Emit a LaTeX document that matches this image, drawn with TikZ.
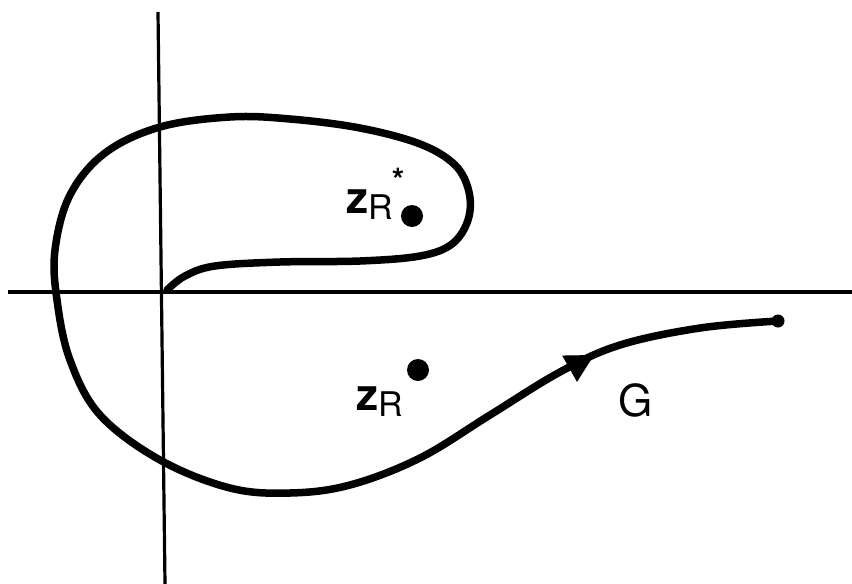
\documentclass[tikz,border=0pt]{standalone}
\usepackage{fontspec}
\setmainfont{TeX Gyre Heros}
\usetikzlibrary{arrows.meta}
\begin{document}
\begin{tikzpicture}[x=1pt,y=-1pt,
  axis/.style={line width=3.2pt},
  contour/.style={line width=7.5pt,line cap=round,line join=round},
  pole/.style={circle,fill=black,inner sep=0pt,minimum size=22pt},
  lbl/.style={inner sep=0pt,font=\fontsize{44}{44}\selectfont}]
\useasboundingbox (0,0) rectangle (852,584);
% axes
\coordinate (vt) at (158,12);
\coordinate (vb) at (165,584);
\coordinate (hl) at (8,292);
\coordinate (hr) at (852,292);
\draw[axis] (vt) -- (vb);
\draw[axis] (hl) -- (hr);
% contour G
\draw[contour] plot[smooth,tension=0.6] coordinates {
(167,290) (185,276) (215,266) (280,262) (360,261) (420,256) (452,244)
(468,220) (469,192) (455,165) (420,144) (360,128) (290,119) (230,117)
(160,127) (105,153) (70,195) (55,250) (57,300) (70,360) (100,415)
(160,460) (230,488) (290,493) (350,485) (420,458) (490,415) (560,372)
(620,345) (700,328) (778,321)};
\coordinate (ae) at (594,355);
\coordinate (as) at (562,373);
\draw[-{Triangle[length=28pt,width=30pt]},line width=1pt] (as) -- (ae);
\node[circle,fill=black,inner sep=0pt,minimum size=13pt] (end) at (778,321) {};
% poles
\node[pole] (p1) at (412,216) {};
\node[pole] (p2) at (418,370) {};
% labels
\node[lbl] (l1) at (370,205) {\textbf{z}\raisebox{-6pt}{\fontsize{34}{34}\selectfont R}};
\node[inner sep=0pt,font=\bfseries\fontsize{32}{32}\selectfont] (st) at (398,180) {*};
\node[lbl] (l2) at (380,402) {\textbf{z}\raisebox{-6pt}{\fontsize{34}{34}\selectfont R}};
\node[lbl] (g) at (636,400) {G};
\end{tikzpicture}
\end{document}
